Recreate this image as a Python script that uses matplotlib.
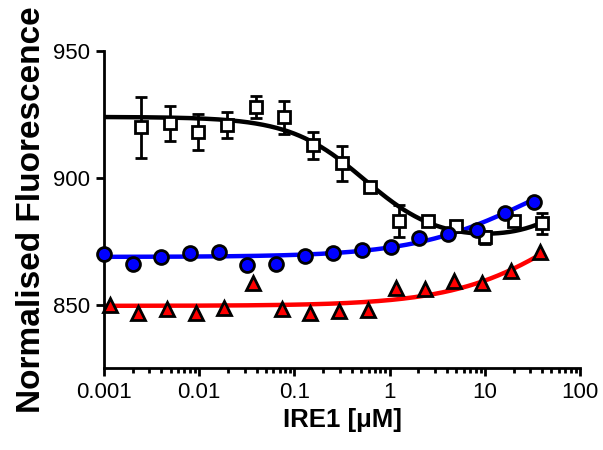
import matplotlib

matplotlib.use("Agg")
import matplotlib.pyplot as plt
import numpy as np
from matplotlib.ticker import FixedLocator, LogLocator, NullFormatter

# IRE1 titrations (uM), 2-fold dilution series
conc_sq = 40.0 / 2.0 ** np.arange(14, -1, -1)
conc_circ = 0.001 * 2.0 ** np.arange(16)
conc_tri = 0.00115 * 2.0 ** np.arange(16)

# open squares: mean +/- SD
fl_sq = [920.0, 921.5, 918.0, 920.8, 927.9, 923.9, 912.8, 905.7,
         896.2, 882.8, 882.8, 880.8, 876.5, 882.8, 882.0]
sd_sq = [12.0, 7.0, 7.0, 5.0, 4.4, 6.5, 5.3, 7.0,
         1.5, 6.3, 1.5, 1.5, 2.5, 1.5, 4.3]

# blue circles
fl_circ = [869.8, 866.2, 868.6, 870.2, 870.9, 865.8, 866.2, 869.0,
           870.2, 871.5, 872.9, 876.1, 877.7, 879.6, 886.0, 890.3]

# red triangles
fl_tri = [850.0, 846.8, 848.4, 846.8, 848.8, 858.7, 848.4, 846.8,
          847.6, 848.0, 856.7, 856.3, 859.5, 858.7, 863.4, 870.6]

# fitted curve parameters
SQ_FIT = dict(top=924.0, bottom=874.0, ic50=0.55, hill=1.1, slope=0.2)
CIRC_FIT = dict(base=868.8, span=44.0, ec50=30.0, hill=0.7)
TRI_FIT = dict(base=849.5, span=60.0, ec50=100.0, hill=0.7)


def inhibition(x, top, bottom, ic50, hill, slope):
    return bottom + (top - bottom) / (1 + (x / ic50) ** hill) + slope * x


def rise(x, base, span, ec50, hill):
    return base + span / (1 + (ec50 / x) ** hill)


def grid(conc):
    return np.logspace(-3, np.log10(max(conc)), 400)


plt.rcParams["font.family"] = ["Liberation Sans", "DejaVu Sans"]

fig = plt.figure(figsize=(6.03, 4.5), dpi=100)
ax = fig.add_axes([0.1725, 0.1822, 0.962 - 0.1725, 0.8867 - 0.1822])

xt = grid(conc_tri)
ax.plot(xt, rise(xt, **TRI_FIT), color="#ff0000", lw=3.2, zorder=2)
ax.plot(conc_tri, fl_tri, ls="none", marker="^", ms=10, mfc="#ff0000",
        mec="black", mew=2, zorder=3, clip_on=False)

xq = grid(conc_sq)
ax.plot(xq, inhibition(xq, **SQ_FIT), color="black", lw=3.2, zorder=4)
ax.errorbar(conc_sq, fl_sq, yerr=sd_sq, ls="none", marker="s", ms=9,
            mfc="white", mec="black", mew=2, ecolor="black", elinewidth=2,
            capsize=4.5, capthick=2, zorder=5)

xc = grid(conc_circ)
ax.plot(xc, rise(xc, **CIRC_FIT), color="#0000ff", lw=3.2, zorder=3)
ax.plot(conc_circ, fl_circ, ls="none", marker="o", ms=10, mfc="#0000ff",
        mec="black", mew=2, zorder=6, clip_on=False)

ax.set_xscale("log")
ax.set_xlim(0.001, 100)
ax.set_ylim(825, 950)
ax.xaxis.set_major_locator(FixedLocator([0.001, 0.01, 0.1, 1, 10, 100]))
ax.set_xticklabels(["0.001", "0.01", "0.1", "1", "10", "100"])
ax.xaxis.set_minor_locator(LogLocator(base=10, subs=np.arange(2, 10)))
ax.xaxis.set_minor_formatter(NullFormatter())
ax.set_yticks([850, 900, 950])

for side in ("top", "right"):
    ax.spines[side].set_visible(False)
for side in ("left", "bottom"):
    ax.spines[side].set_linewidth(2)
ax.tick_params(which="major", direction="out", length=6, width=2,
               labelsize=16, pad=4)
ax.tick_params(axis="x", which="minor", direction="out", length=3.5, width=2)

ax.set_xlabel("IRE1 [\u03bcM]", fontsize=18.5, fontweight="bold", labelpad=4)
ax.set_ylabel("Normalised Fluorescence", fontsize=24, fontweight="bold",
              labelpad=4)

fig.savefig("out.png", dpi=100)
